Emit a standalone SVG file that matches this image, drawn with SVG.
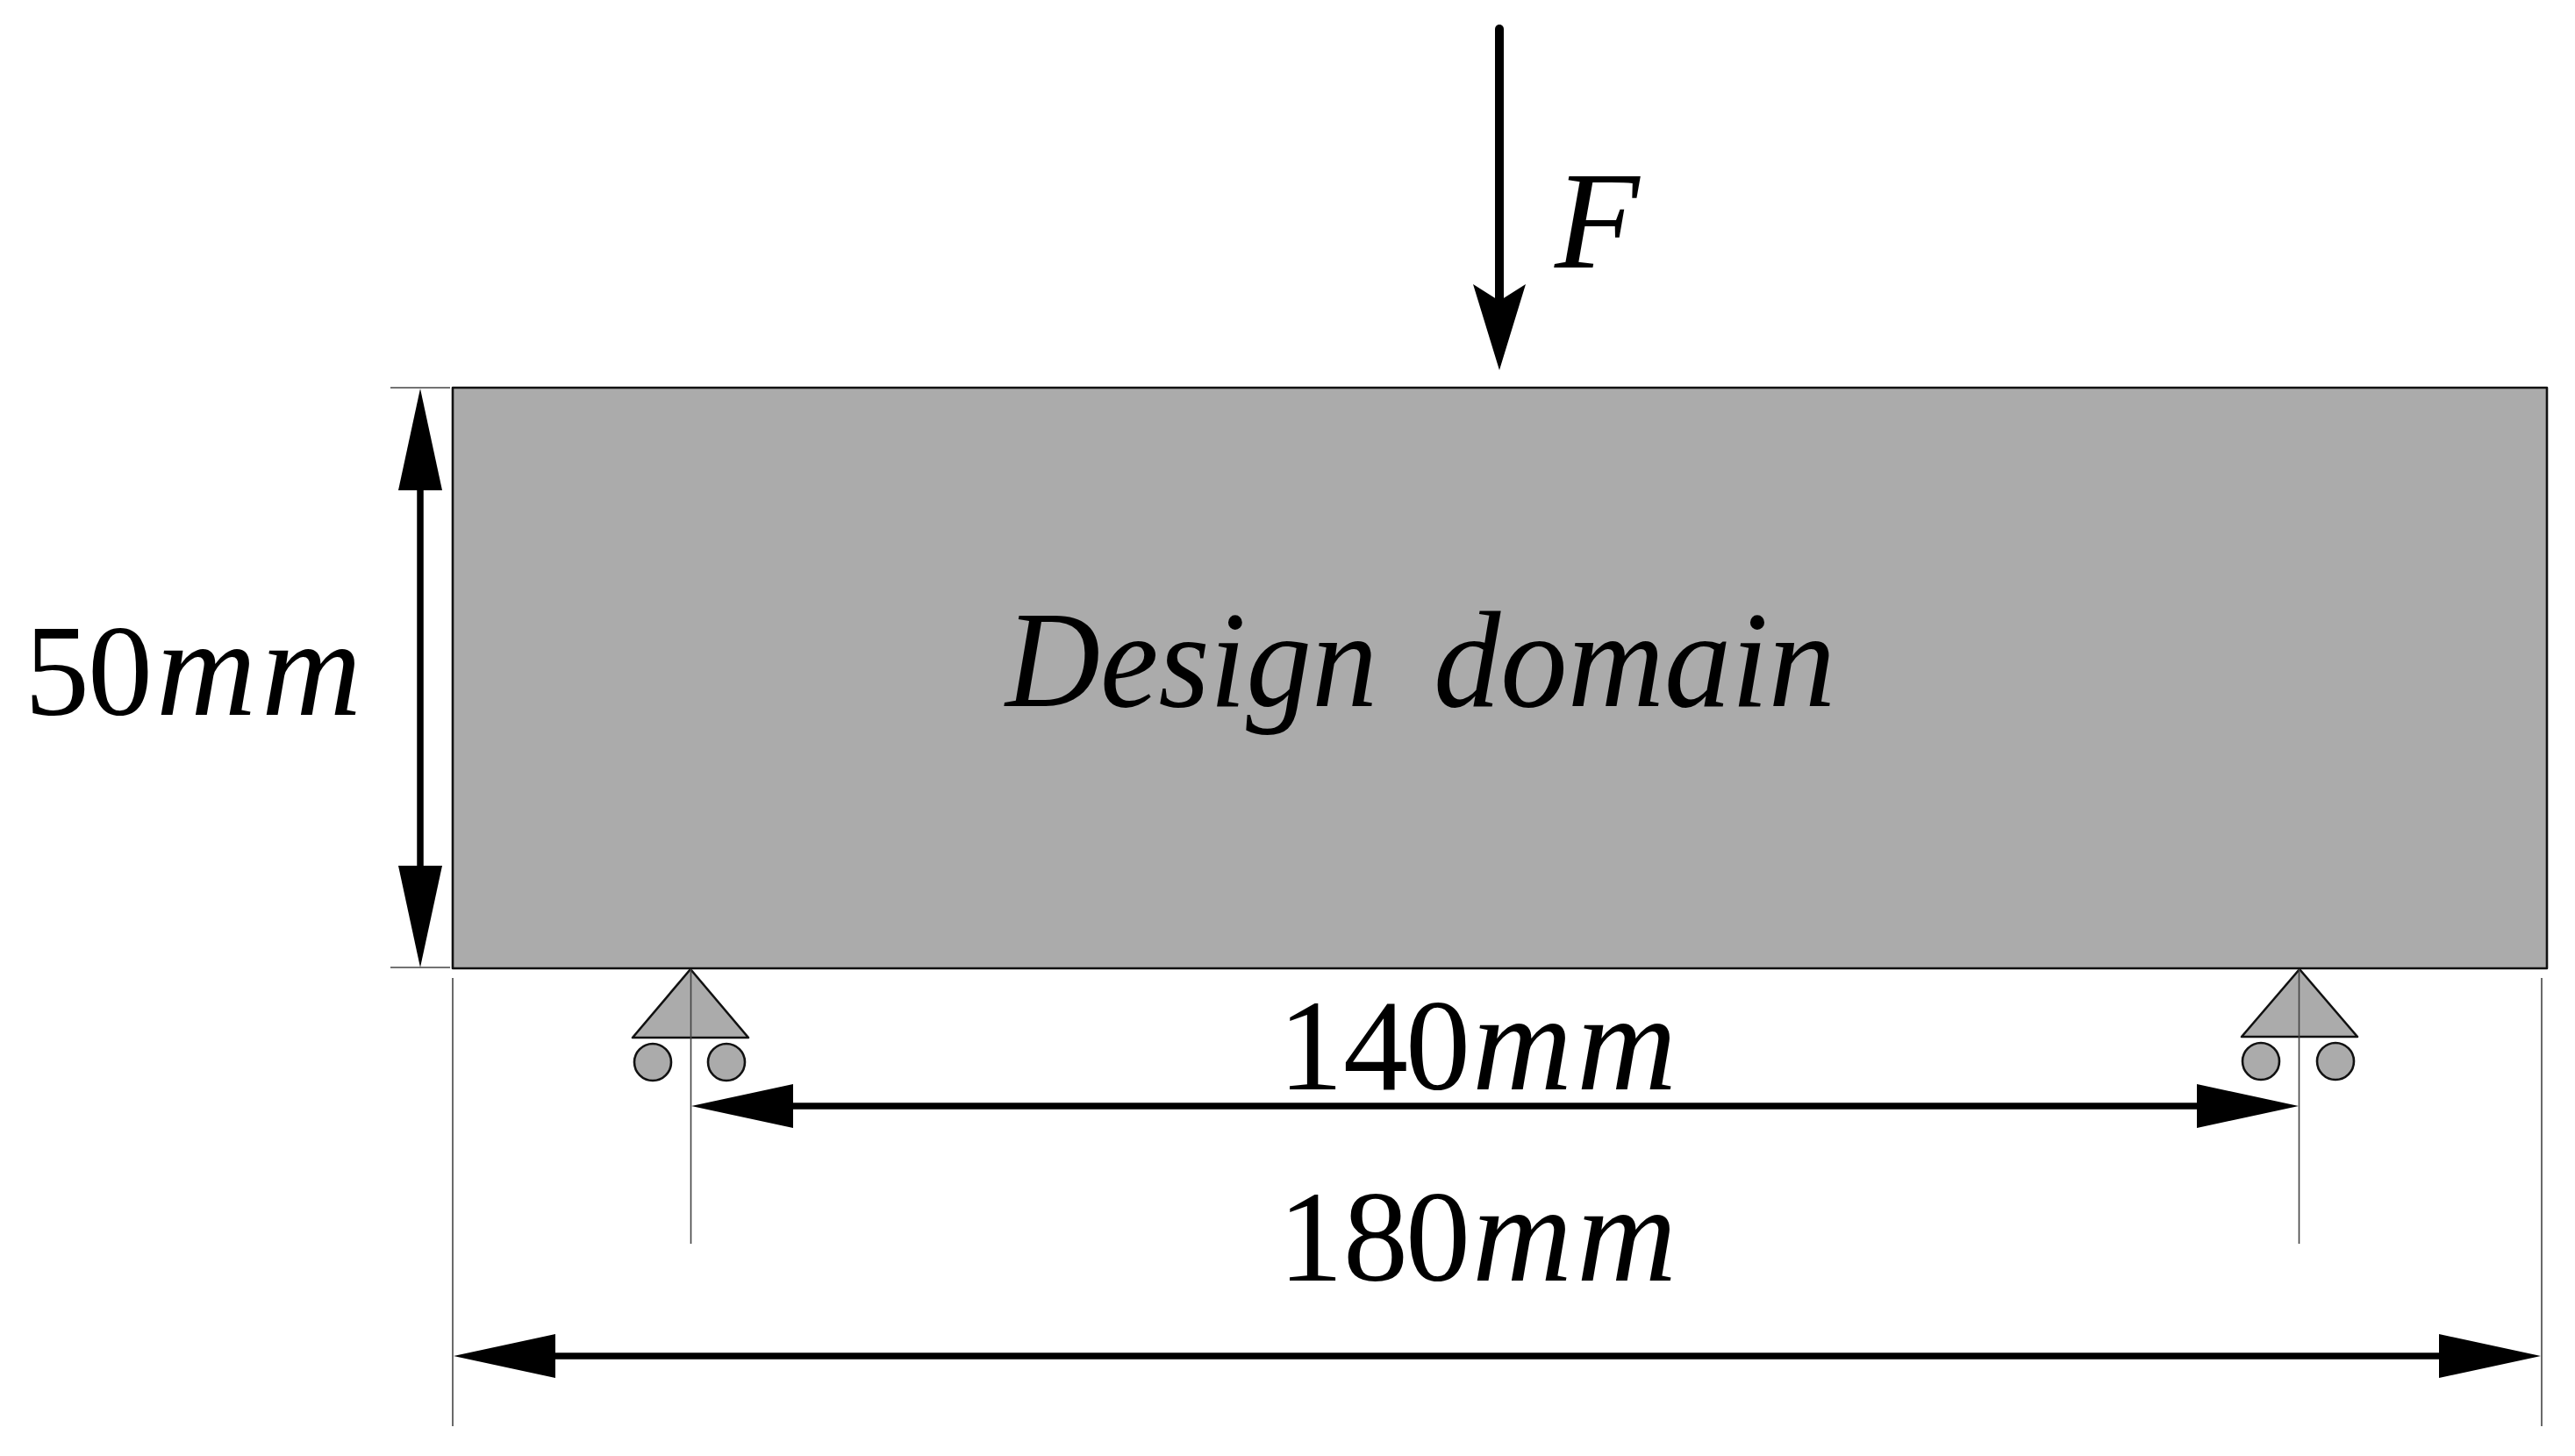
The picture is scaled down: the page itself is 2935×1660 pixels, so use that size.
<svg xmlns="http://www.w3.org/2000/svg" width="2935" height="1660" viewBox="0 0 2935 1660">
<style>
.thick{stroke:#000;stroke-width:7.5;fill:none}
.thin{stroke:#444;stroke-width:1.6;fill:none}
.shape{fill:#ababab;stroke:#111;stroke-width:2.6;stroke-linejoin:round}
text{fill:#000;font-family:"Liberation Serif",serif;font-size:148px}
.i{font-style:italic;font-size:158px}
</style>
<defs>
<marker id="dim" markerUnits="userSpaceOnUse" markerWidth="116" markerHeight="50" refX="1" refY="25" orient="auto-start-reverse"><path d="M0 0L116 25L0 50z" fill="#000"/></marker>
<marker id="force" markerUnits="userSpaceOnUse" markerWidth="100" markerHeight="60" refX="16" refY="30" orient="auto"><path d="M0 0L98 30L0 60L19 30z" fill="#000"/></marker>
</defs>
<rect width="2935" height="1660" fill="#fff"/>
<g id="design-domain">
<rect class="shape" x="516" y="442" width="2387" height="662"/>
<text y="805" font-style="italic" font-size="156" style="font-size:156px"><tspan x="1146" textLength="424" lengthAdjust="spacingAndGlyphs">Design</tspan> <tspan x="1634" textLength="458" lengthAdjust="spacingAndGlyphs">domain</tspan></text>
</g>
<g id="support-left">
<path class="shape" d="M787 1105L721 1183H853Z"/>
<circle class="shape" cx="744" cy="1211" r="21"/>
<circle class="shape" cx="828" cy="1211" r="21"/>
</g>
<g id="support-right">
<path class="shape" d="M2621 1105L2555 1182H2687Z"/>
<circle class="shape" cx="2577" cy="1210" r="21"/>
<circle class="shape" cx="2662" cy="1210" r="21"/>
</g>
<g id="connectors">
<line class="thin" x1="445" y1="442" x2="513" y2="442"/>
<line class="thin" x1="445" y1="1103" x2="513" y2="1103"/>
<line class="thin" x1="516" y1="1115" x2="516" y2="1626"/>
<line class="thin" x1="2897" y1="1115" x2="2897" y2="1626"/>
<line class="thin" x1="787.500" y1="1105" x2="787.500" y2="1418"/>
<line class="thin" x1="2620.500" y1="1105" x2="2620.500" y2="1418"/>
<line class="thick" x1="479" y1="558" x2="479" y2="988" marker-start="url(#dim)" marker-end="url(#dim)"/>
<line class="thick" x1="903" y1="1261" x2="2505" y2="1261" marker-start="url(#dim)" marker-end="url(#dim)"/>
<line class="thick" x1="632" y1="1546" x2="2781" y2="1546" marker-start="url(#dim)" marker-end="url(#dim)"/>
<line x1="1709" y1="33" x2="1709" y2="340" stroke="#000" stroke-width="10" stroke-linecap="round" marker-end="url(#force)"/>
</g>
<g id="label-force"><text class="i" x="1772" y="305">F</text></g>
<g id="label-50mm"><text y="815"><tspan x="28 100">50</tspan><tspan class="i" x="178 298">mm</tspan></text></g>
<g id="label-140mm"><text y="1242"><tspan x="1457 1531 1602">140</tspan><tspan class="i" x="1678 1797">mm</tspan></text></g>
<g id="label-180mm"><text y="1460"><tspan x="1457 1531 1602">180</tspan><tspan class="i" x="1678 1797">mm</tspan></text></g>
</svg>
